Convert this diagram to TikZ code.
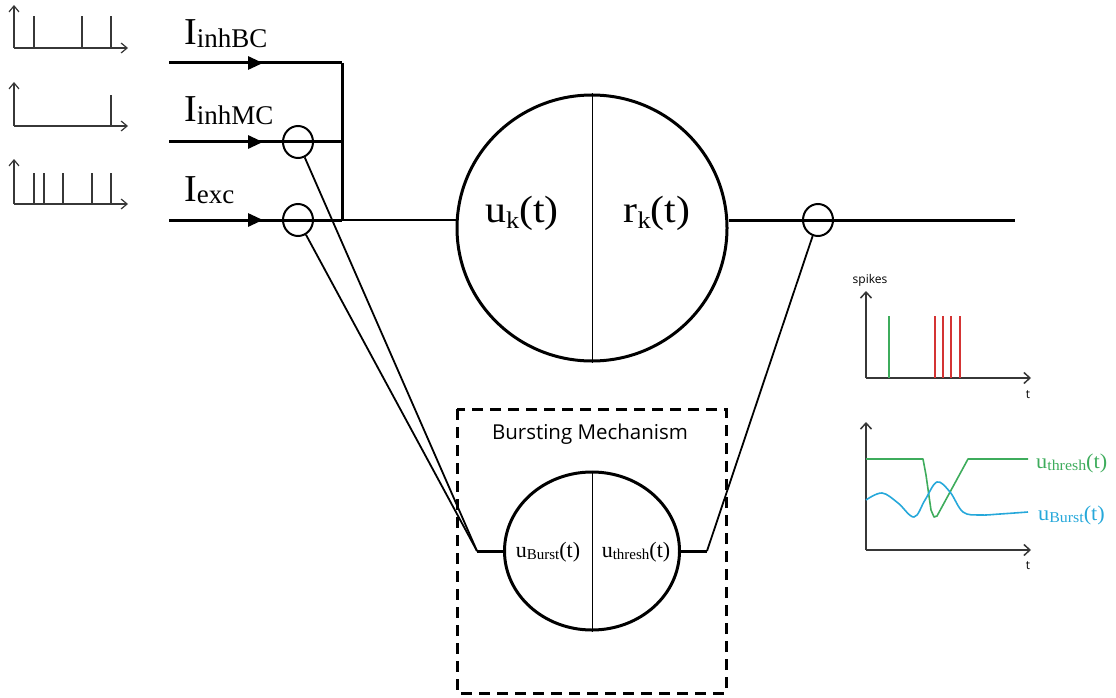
\documentclass[tikz,border=0pt]{standalone}
\usepackage{fontspec}
\usepackage{graphicx}
\setmainfont{Liberation Serif}
\newfontfamily\sansf{Open Sans}
\usetikzlibrary{arrows.meta,decorations.markings,shapes.geometric}

\definecolor{thrgreen}{RGB}{62,172,92}
\definecolor{bstblue}{RGB}{38,168,218}
\definecolor{spkred}{RGB}{212,52,52}
\definecolor{axgray}{RGB}{55,55,55}

% symbol with a lowered, smaller subscript and an optional tail:
% #1 symbol size, #2 subscript size, #3 symbol, #4 subscript, #5 drop, #6 tail
\newcommand{\symsub}[6]{{\fontsize{#1}{#1}\selectfont #3}\raisebox{-#5pt}{\fontsize{#2}{#2}\selectfont #4}{\fontsize{#1}{#1}\selectfont #6}}

\tikzset{
  inwire/.style={line width=3pt,
    postaction={decorate},
    decoration={markings, mark=at position 94pt with {\arrow{Triangle[length=15pt,width=13pt]}}}},
  thickwire/.style={line width=3pt},
  midwire/.style={line width=2.2pt},
  slant/.style={line width=1.8pt},
  tap/.style={draw, ellipse, minimum width=30pt, minimum height=32pt, inner sep=0pt, line width=2pt},
  spkaxis/.style={line width=1.2pt, draw=axgray, -{Straight Barb[length=6pt,width=10pt]}},
  spk/.style={line width=1.2pt, draw=axgray},
  plotaxis/.style={line width=1.5pt, draw=axgray, -{Straight Barb[length=6pt,width=11pt]}},
  smalltxt/.style={font=\sansf\fontsize{12}{12}\selectfont, inner sep=0pt},
}

\begin{document}
\begin{tikzpicture}[x=1pt,y=-1pt]
\useasboundingbox (0,0) rectangle (1116,698);

% ---------- input spike trains ----------
\foreach \yb/\yt/\ys/\xs in {48/5/16/{34,82,111}, 126/82/95/{111}, 204/159/173/{34,44,63,92,111}}{
  \draw[spkaxis] (14,\yb) -- (14,\yt);
  \draw[spkaxis] (14,\yb) -- (128,\yb);
  \foreach \x in \xs { \draw[spk] (\x,\yb) -- (\x,\ys); }
}

% ---------- coordinates ----------
\coordinate (bcS) at (169,63);
\coordinate (bcJ) at (342,63);
\coordinate (mcS) at (169,142);
\coordinate (mcJ) at (342,142);
\coordinate (exS) at (169,220);
\coordinate (exJ) at (342,220);
\coordinate (outE) at (1015,220);
\coordinate (bl) at (477,551);
\coordinate (br) at (707,551);

% ---------- main unit ----------
\node[draw, ellipse, line width=3pt, minimum width=270pt, minimum height=266pt, inner sep=0pt] (main) at (592,228) {};
\draw[line width=1pt] (main.north) -- (main.south);
\node[anchor=base, inner sep=0pt] (uk) at (522,222) {\scalebox{1.1}[1]{\symsub{38}{24}{u}{k}{6}{(t)}}};
\node[anchor=base, inner sep=0pt] (rk) at (657,222) {\scalebox{1.1}[1]{\symsub{38}{24}{r}{k}{6}{(t)}}};

% ---------- input wires ----------
\draw[inwire] (bcS) -- (bcJ);
\draw[thickwire] (bcJ) -- (exJ);
\draw[inwire] (mcS) -- (mcJ);
\draw[inwire] (exS) -- (exJ);
\draw[midwire] (exJ) -- (exJ -| main.west);

\node[anchor=base west, inner sep=0pt] (lbc) at (184,45) {\symsub{38}{27}{I}{inhBC}{2.5}{}};
\node[anchor=base west, inner sep=0pt] (lmc) at (184,122) {\symsub{38}{27}{I}{inhMC}{2.5}{}};
\node[anchor=base west, inner sep=0pt] (lex) at (184,201) {\symsub{38}{27}{I}{exc}{2.5}{}};

\node[tap] (cMC) at (298,142) {};
\node[tap] (cEx) at (298,220) {};

% ---------- output wire ----------
\draw[thickwire] (main.east |- outE) -- (outE);
\node[tap] (cOut) at (818,220) {};

% ---------- bursting mechanism ----------
\draw[line width=3pt, dash pattern=on 11pt off 7pt] (457,409) rectangle (726,693);
\node[font=\sansf\fontsize{20.5}{20.5}\selectfont] (bmlabel) at (590,434) {Bursting Mechanism};

\node[draw, ellipse, line width=3pt, minimum width=175pt, minimum height=158pt, inner sep=0pt] (burst) at (592,551) {};
\draw[line width=1pt] (burst.north) -- (burst.south);
\node[anchor=base] (ub) at (548,557) {\symsub{22}{15}{u}{Burst}{2}{(t)}};
\node[anchor=base] (ut) at (636,557) {\symsub{22}{15}{u}{thresh}{2}{(t)}};

\draw[slant] (cMC) -- (bl);
\draw[slant] (cEx) -- (bl);
\draw[thickwire] (bl) -- (burst.west);
\draw[thickwire] (burst.east) -- (br);
\draw[slant] (br) -- (cOut);

% ---------- output spike plot ----------
\draw[plotaxis] (866,378) -- (866,291);
\draw[plotaxis] (866,378) -- (1031,378);
\node[smalltxt] (spk) at (870,280) {spikes};
\node[smalltxt] (t1) at (1028,395) {t};
\draw[line width=1.6pt, thrgreen] (889,378) -- (889,316);
\foreach \x in {935,943,951,960} { \draw[line width=1.6pt, spkred] (\x,378) -- (\x,316); }

% ---------- potential plot ----------
\draw[plotaxis] (866,550) -- (866,422);
\draw[plotaxis] (866,550) -- (1031,550);
\node[smalltxt] (t2) at (1028,566) {t};
\draw[line width=1.6pt, thrgreen, line join=round]
  (866,459) -- (923,459) -- (926,475) -- (931,510) -- (934,517) -- (937,516) -- (968,459) -- (1028,459);
\draw[line width=1.6pt, bstblue] plot[smooth, tension=0.6] coordinates {
  (866,500) (882,493) (898,503) (914,517) (925,500) (937,482) (950,492) (963,512) (980,515) (1000,514) (1028,512)};
\node[anchor=base west, inner sep=0pt, text=thrgreen] (lthr) at (1036,468) {\scalebox{1.06}[1]{\symsub{21}{15}{u}{thresh}{2}{(t)}}};
\node[anchor=base west, inner sep=0pt, text=bstblue] (lbst) at (1038,520) {\scalebox{1.06}[1]{\symsub{21}{15}{u}{Burst}{2}{(t)}}};
\end{tikzpicture}
\end{document}
